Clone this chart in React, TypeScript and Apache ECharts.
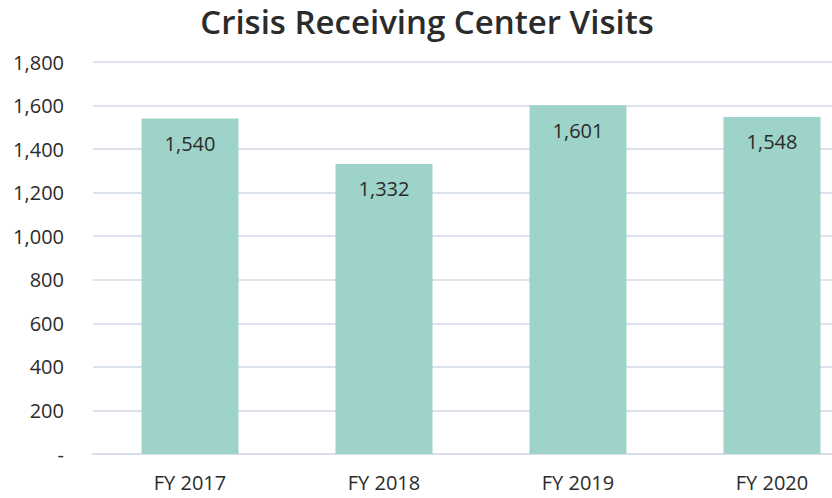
import React, { useEffect, useRef } from "react";
import * as echarts from "echarts";

const categories = ["FY 2017", "FY 2018", "FY 2019", "FY 2020"];
const visits = [1540, 1332, 1601, 1548];
const yTicks = [0, 200, 400, 600, 800, 1000, 1200, 1400, 1600, 1800];

const fmt = (v: number) => (v === 0 ? "-" : v.toLocaleString("en-US"));
const FONT = "Open Sans";

export default function App() {
  const ref = useRef<HTMLDivElement>(null);
  useEffect(() => {
    if (!ref.current) return;
    const chart = echarts.init(ref.current, undefined, { renderer: "svg" });
    chart.setOption({
      animation: false,
      backgroundColor: "#ffffff",
      title: {
        text: "Crisis Receiving Center Visits",
        left: 422,
        top: 0,
        textAlign: "center",
        textStyle: { fontFamily: FONT, fontSize: 33, fontWeight: 600, color: "#2b2b2b" },
      },
      grid: { left: 93, right: 1, top: 62, bottom: 44, containLabel: false },
      xAxis: {
        type: "category",
        data: categories,
        axisLine: { show: true, lineStyle: { color: "#d9dfe8", width: 2 } },
        axisTick: { show: false },
        axisLabel: { fontFamily: FONT, fontSize: 20, color: "#2b2b2b", margin: 18 },
      },
      yAxis: {
        type: "value",
        min: yTicks[0],
        max: yTicks[yTicks.length - 1],
        interval: 200,
        axisLine: { show: false },
        axisTick: { show: false },
        axisLabel: {
          fontFamily: FONT,
          fontSize: 20,
          color: "#2b2b2b",
          margin: 29,
          formatter: (v: number) => fmt(v),
        },
        splitLine: { lineStyle: { color: "#dde3ec", width: 2 } },
      },
      series: [
        {
          type: "bar",
          data: visits,
          barWidth: "50%",
          itemStyle: { color: "#9dd3c8" },
          label: {
            show: true,
            position: "insideTop",
            distance: 15,
            fontFamily: FONT,
            fontSize: 20,
            color: "#2b2b2b",
            formatter: (p: any) => fmt(p.value),
          },
        },
      ],
    });
    return () => chart.dispose();
  }, []);
  return (
    <div
      style={{
        position: "fixed",
        left: 0,
        top: 0,
        width: 832,
        height: 498,
        overflow: "hidden",
        background: "#ffffff",
      }}
    >
      <div ref={ref} style={{ width: 870, height: 498 }} />
    </div>
  );
}
